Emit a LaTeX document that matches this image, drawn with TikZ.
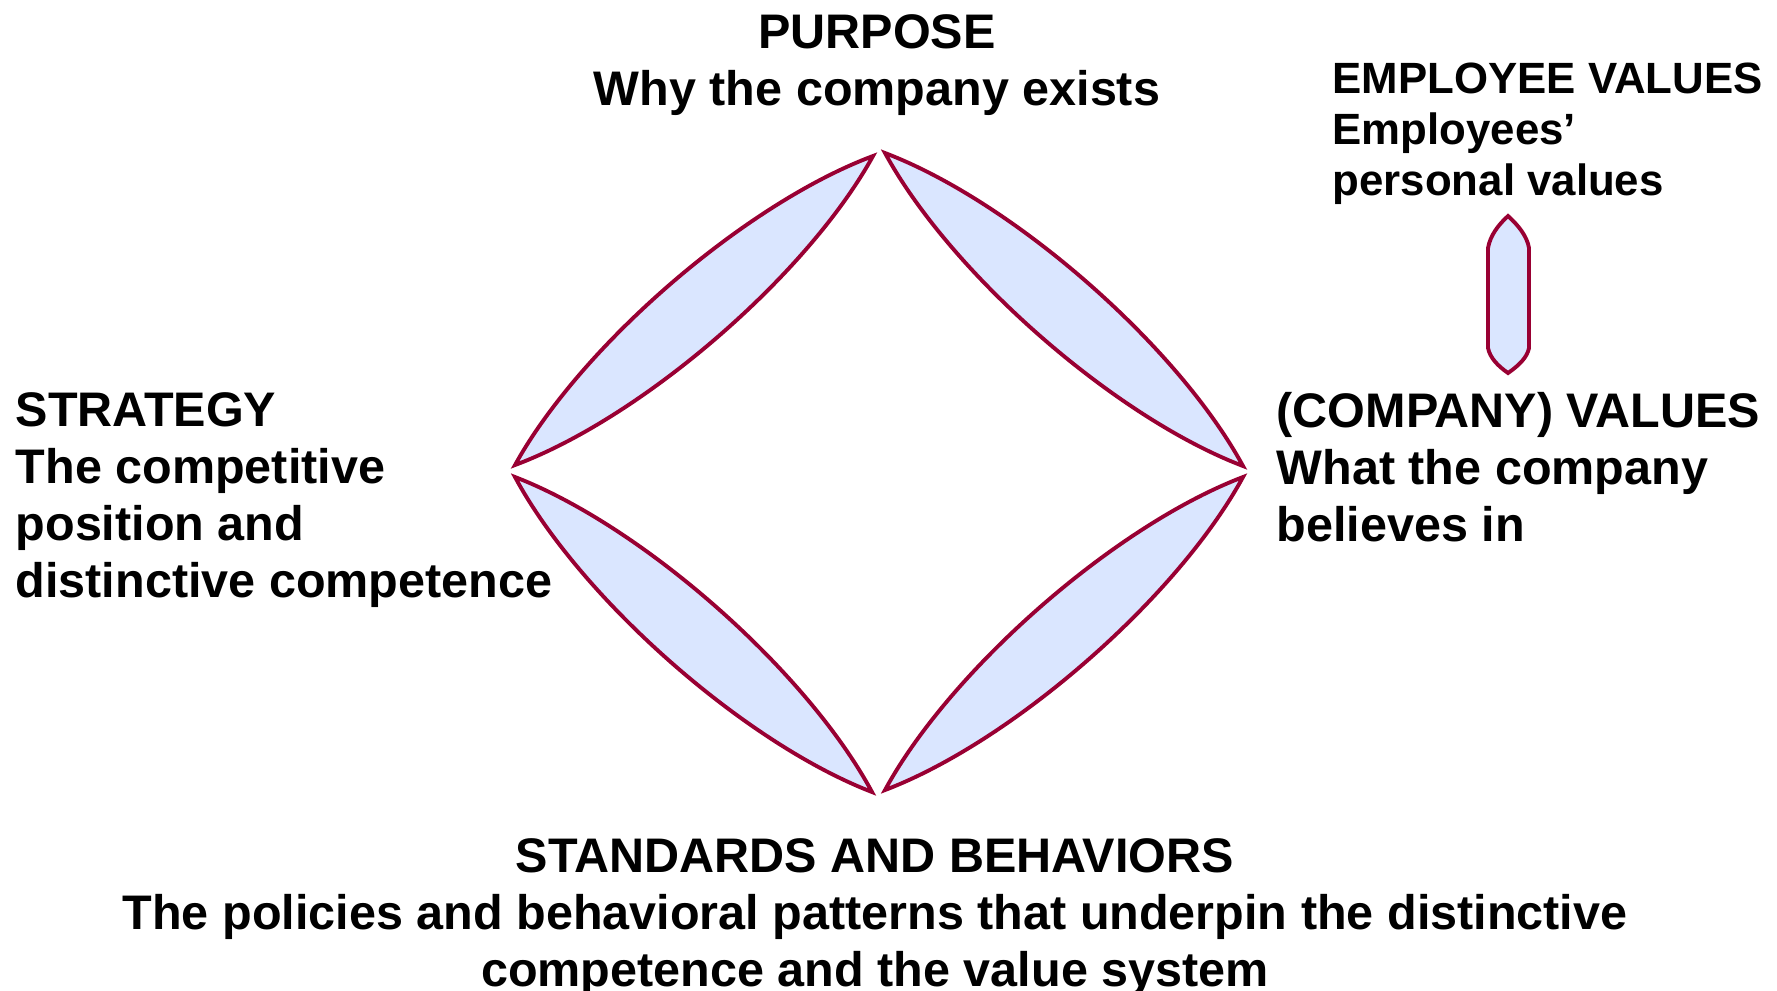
\documentclass[tikz,border=0pt]{standalone}
\usepackage{fontspec}
\setmainfont{Liberation Sans}
\usetikzlibrary{calc}
\definecolor{lensline}{RGB}{153,0,51}
\definecolor{lensfill}{RGB}{218,230,255}
\tikzset{
  lab/.style={font=\fontsize{13.8}{16.2}\selectfont\bfseries, inner sep=0pt, align=left, text=black},
  labsmall/.style={lab, font=\fontsize{12.45}{14.5}\selectfont\bfseries},
  labc/.style={lab, align=center},
  lensshape/.style={draw=lensline, fill=lensfill, line width=1.1pt, line join=miter},
}
\newcommand{\lensbetween}[2]{%
  \coordinate (tmpv) at ($(#1)!0.10!90:(#2)$);
  \coordinate (tmpw) at ($(#1)!0.10!-90:(#2)$);
  \path[lensshape] (#1)
     .. controls ($(#1)!0.27!(#2) + (tmpv) - (#1)$) and ($(#1)!0.73!(#2) + (tmpv) - (#1)$) .. (#2)
     .. controls ($(#1)!0.73!(#2) + (tmpw) - (#1)$) and ($(#1)!0.27!(#2) + (tmpw) - (#1)$) .. (#1) -- cycle;
}
\begin{document}
\begin{tikzpicture}[x=0.01cm,y=-0.01cm]
\useasboundingbox[fill=white] (0,0) rectangle (1777,990);
% tips of the diamond
\coordinate (ULa) at (515,465); \coordinate (ULb) at (873,156);
\coordinate (URa) at (885,153); \coordinate (URb) at (1243,466);
\coordinate (LLa) at (515,477); \coordinate (LLb) at (872,792);
\coordinate (LRa) at (885,790); \coordinate (LRb) at (1243,477);
\lensbetween{ULa}{ULb}
\lensbetween{URa}{URb}
\lensbetween{LLa}{LLb}
\lensbetween{LRa}{LRb}
% small vertical lens
\coordinate (evtop) at (1508,216);
\coordinate (evbot) at (1508,373);
\path[lensshape] (evtop) .. controls (1518,225) and (1527,236) .. (1529,248)
   -- (1529,348) .. controls (1527,358) and (1518,366) .. (evbot)
   .. controls (1498,366) and (1490,358) .. (1488,348)
   -- (1488,248) .. controls (1490,236) and (1498,225) .. (evtop) -- cycle;
% labels
\node[labc, anchor=north] (purpose) at (877,14) {PURPOSE\\Why the company exists};
\node[labsmall, anchor=north west] (employee) at (1332,62) {EMPLOYEE VALUES\\Employees’\\personal values};
\node[lab, anchor=north west] (strategy) at (15,392) {STRATEGY\\The competitive\\position and\\distinctive competence};
\node[lab, anchor=north west] (values) at (1276,392) {(COMPANY) VALUES\\What the company\\believes in};
\node[labc, anchor=north] (standards) at (875,838) {STANDARDS AND BEHAVIORS\\The policies and behavioral patterns that underpin the distinctive\\competence and the value system};
\end{tikzpicture}
\end{document}
